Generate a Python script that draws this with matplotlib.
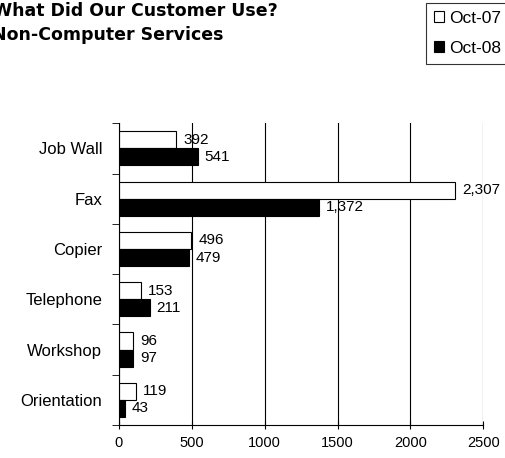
import numpy as np
import matplotlib.pyplot as plt

plt.rcParams['font.family'] = ['Liberation Sans', 'DejaVu Sans']

categories = ['Job Wall', 'Fax', 'Copier', 'Telephone', 'Workshop', 'Orientation']
oct07 = [392, 2307, 496, 153, 96, 119]
oct08 = [541, 1372, 479, 211, 97, 43]
x_ticks = [0, 500, 1000, 1500, 2000, 2500]

fig = plt.figure(figsize=(5.06, 4.58), dpi=100)
ax = fig.add_axes([0.235, 0.072, 0.72, 0.659])

y = np.arange(len(categories))
h = 0.34
b1 = ax.barh(y - h / 2, oct07, height=h, color='white', edgecolor='black', linewidth=0.8, label='Oct-07')
b2 = ax.barh(y + h / 2, oct08, height=h, color='black', edgecolor='black', linewidth=0.8, label='Oct-08')

for bars, vals in [(b1, oct07), (b2, oct08)]:
    for bar, v in zip(bars, vals):
        ax.annotate(f'{v:,}', (bar.get_width(), bar.get_y() + bar.get_height() / 2),
                    xytext=(5, 0), textcoords='offset points', va='center', ha='left', fontsize=11)

ax.set_ylim(len(categories) - 0.5, -0.5)
ax.set_xlim(0, 2500)
ax.set_yticks(y)
ax.set_yticklabels(categories, fontsize=12)
ax.set_yticks(np.arange(-0.5, len(categories), 1), minor=True)
ax.tick_params(axis='y', which='major', length=0, pad=12)
ax.tick_params(axis='y', which='minor', length=5, direction='out')
ax.set_xticks(x_ticks)
ax.set_xticklabels([str(t) for t in x_ticks], fontsize=10.5)
ax.tick_params(axis='x', direction='inout', length=6, pad=5)
ax.grid(axis='x', color='black', linewidth=0.8)
ax.set_axisbelow(True)
for s in ['top', 'right']:
    ax.spines[s].set_visible(False)

fig.text(-0.014, 0.965, 'What Did Our Customer Use?', fontsize=12.5, fontweight='bold',
         va='baseline', ha='left', family='DejaVu Sans')
fig.text(-0.016, 0.913, 'Non-Computer Services', fontsize=12.5, fontweight='bold',
         va='baseline', ha='left', family='DejaVu Sans')

leg = fig.legend(handles=[b1, b2], loc='upper left', bbox_to_anchor=(0.842, 0.993), fontsize=12.5,
                 frameon=True, fancybox=False, edgecolor='black', handlelength=0.6, handleheight=0.6,
                 handletextpad=0.3, borderpad=0.45, labelspacing=0.85, borderaxespad=0)
leg.get_frame().set_linewidth(0.8)

fig.savefig('out.png', dpi=100)
